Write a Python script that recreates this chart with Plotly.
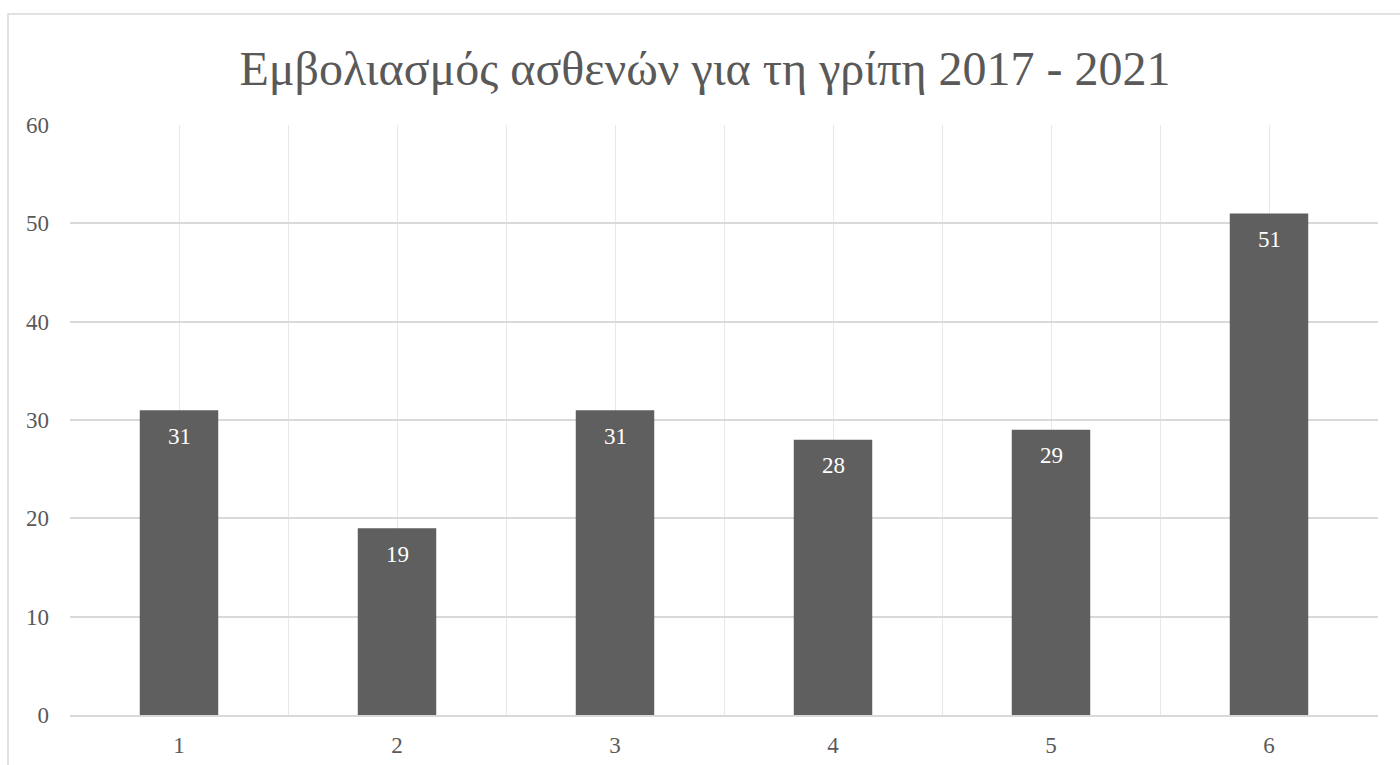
import plotly.graph_objects as go

# Data
categories = [1, 2, 3, 4, 5, 6]
values = [31, 19, 31, 28, 29, 51]
title_text = "Εμβολιασμός ασθενών για τη γρίπη 2017 - 2021"

W, H = 1400, 765
ML, MR, MT, MB = 70, 22, 125, 50
plot_w = W - ML - MR
plot_h = H - MT - MB

SERIF = "Liberation Serif, Times New Roman, serif"
TXT = "#595959"

fig = go.Figure(
    go.Bar(
        x=categories,
        y=values,
        marker=dict(color="#5f5f5f", line=dict(width=0)),
        width=0.36,
        hoverinfo="x+y",
    )
)

# Value labels just inside the top of each bar
for c, v in zip(categories, values):
    fig.add_annotation(
        x=c, y=v, text=str(v), showarrow=False,
        xanchor="center", yanchor="middle", yshift=-26,
        font=dict(family=SERIF, size=23, color="white"),
    )

# Outer chart frame (extends past the right and bottom of the page)
fig.add_shape(
    type="rect", xref="paper", yref="paper",
    x0=(8 - ML) / plot_w, x1=(1410 - ML) / plot_w,
    y0=(MT + plot_h - 780) / plot_h, y1=(MT + plot_h - 14) / plot_h,
    line=dict(color="#d9d9d9", width=1.5), fillcolor="rgba(0,0,0,0)",
    layer="below",
)

fig.update_layout(
    width=W, height=H,
    margin=dict(l=ML, r=MR, t=MT, b=MB, autoexpand=False),
    paper_bgcolor="white", plot_bgcolor="white",
    showlegend=False,
    title=dict(
        text=title_text, x=705 / W, xref="container", xanchor="center",
        y=1 - 68 / H, yanchor="middle", yref="container",
        font=dict(family=SERIF, size=48, color=TXT),
    ),
    xaxis=dict(
        range=[0.5, 6.5], tickvals=categories, ticktext=[str(c) for c in categories],
        showgrid=True, gridcolor="#e8e8e8", gridwidth=1.2,
        minor=dict(tick0=0.5, dtick=1, showgrid=True, gridcolor="#e8e8e8", gridwidth=1.2),
        showline=True, linecolor="#d9d9d9", linewidth=1.5,
        mirror=False, zeroline=False, ticks="",
        ticklabelstandoff=9, automargin=False,
        tickfont=dict(family=SERIF, size=23, color=TXT),
        fixedrange=True,
    ),
    yaxis=dict(
        range=[0, 60], dtick=10, tick0=0,
        showgrid=True, gridcolor="#d9d9d9", gridwidth=1.5,
        zeroline=False, showline=False, ticks="",
        ticklabelstandoff=20, automargin=False,
        tickfont=dict(family=SERIF, size=23, color=TXT),
        fixedrange=True,
    ),
)

fig.write_html("out.html", config={"displayModeBar": False})
